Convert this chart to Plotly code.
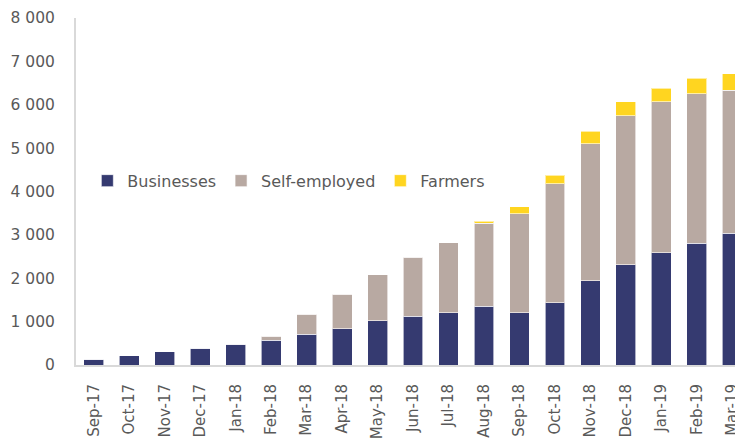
import plotly.graph_objects as go

months = ["Sep-17", "Oct-17", "Nov-17", "Dec-17", "Jan-18", "Feb-18", "Mar-18", "Apr-18",
          "May-18", "Jun-18", "Jul-18", "Aug-18", "Sep-18", "Oct-18", "Nov-18", "Dec-18",
          "Jan-19", "Feb-19", "Mar-19"]
businesses = [130, 210, 300, 385, 480, 570, 710, 840, 1020, 1120, 1205, 1350, 1205, 1435,
              1940, 2310, 2585, 2810, 3040]
self_employed = [0, 0, 0, 0, 0, 90, 460, 790, 1065, 1370, 1610, 1920, 2285, 2745,
                 3160, 3435, 3480, 3440, 3300]
farmers = [0, 0, 0, 0, 0, 0, 0, 0, 0, 0, 0, 50, 155, 200, 285, 320, 320, 365, 370]

FONT = "DejaVu Sans"
GREY = "#595959"

fig = go.Figure()
for name, vals, col in [("Businesses", businesses, "#353A70"),
                        ("Self-employed", self_employed, "#B8A9A2"),
                        ("Farmers", farmers, "#FFD520")]:
    fig.add_trace(go.Bar(x=months, y=vals, name=name, marker_color=col,
                         marker_line=dict(color="rgba(255,255,255,0.6)", width=1)))

fig.update_layout(
    template="none",
    barmode="stack",
    bargap=0.44,
    width=735, height=435,
    margin=dict(l=68, r=0, t=10, b=77.5, pad=0),
    plot_bgcolor="white", paper_bgcolor="white",
    separators=", ",
    font=dict(family=FONT, color=GREY, size=16),
    showlegend=True,
    legend=dict(orientation="h", x=0.017, y=0.531, xanchor="left", yanchor="middle",
                font=dict(family=FONT, size=16, color=GREY), traceorder="normal",
                bgcolor="rgba(0,0,0,0)", itemwidth=30),
)
fig.update_xaxes(range=[-0.5, 18.3], tickangle=-90, showline=True, linecolor="#D9D9D9",
                 linewidth=2, showgrid=False, ticks="", tickfont=dict(size=15, color=GREY),
                 ticklabelstandoff=11, automargin=False)
fig.update_yaxes(range=[0, 8000], dtick=1000, tickformat=",d", showline=True,
                 linecolor="#D9D9D9", linewidth=2, showgrid=False, zeroline=False,
                 ticks="", tickfont=dict(size=15.5, color=GREY), ticklabelstandoff=16,
                 automargin=False)

fig.write_html("out.html")
